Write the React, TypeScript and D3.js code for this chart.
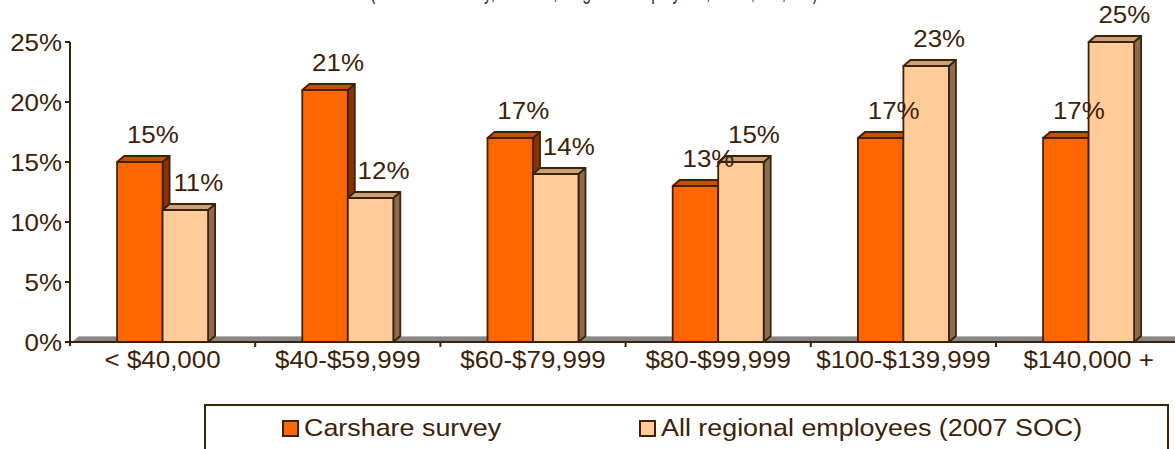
import React from 'react';
import * as d3 from 'd3';

const categories = ['< $40,000', '$40-$59,999', '$60-$79,999', '$80-$99,999', '$100-$139,999', '$140,000 +'];
const seriesNames = ['Carshare survey', 'All regional employees (2007 SOC)'];
const carshare = [15, 21, 17, 13, 17, 17];
const regional = [11, 12, 14, 15, 23, 25];
const yTicks = [0, 5, 10, 15, 20, 25];

const W = 1175;
const H = 449;
const left = 70;
const bandW = 185.2;
const barW = 45.5;
const dx = 7;
const dy = 6;
const ink = '#3d2208';
const font = '"Liberation Sans", Arial, sans-serif';

const palette = [
  { front: '#ff6600', top: '#c65000', side: '#8a3300' },
  { front: '#ffcc99', top: '#c9a17b', side: '#8c6c4e' },
];

export default function App() {
  const x = d3.scaleBand().domain(categories).range([left, left + bandW * categories.length]);
  const xs = d3.scaleBand().domain(seriesNames).range([0, barW * 2]);
  const y = d3.scaleLinear().domain([0, 25]).range([342, 42]);
  const values = [carshare, regional];
  const y0 = y(0);

  const bars: any[] = [];
  const labels: any[] = [];
  categories.forEach((c, i) => {
    const off = (x.bandwidth() - barW * 2) / 2;
    seriesNames.forEach((s, j) => {
      const v = values[j][i];
      const bx = (x(c) as number) + off + (xs(s) as number);
      const by = y(v);
      const col = palette[j];
      bars.push(
        <g key={`b${i}-${j}`} stroke={ink} strokeWidth={1.8} strokeLinejoin="round">
          <path d={`M${bx + barW},${y0} L${bx + barW + dx},${y0 - dy} L${bx + barW + dx},${by - dy} L${bx + barW},${by} Z`} fill={col.side} />
          <path d={`M${bx},${by} L${bx + dx},${by - dy} L${bx + barW + dx},${by - dy} L${bx + barW},${by} Z`} fill={col.top} />
          <rect x={bx} y={by} width={barW} height={y0 - by} fill={col.front} />
        </g>
      );
      const lx = bx + barW / 2 + 13;
      const ly = by - 19;
      labels.push(
        <text key={`l${i}-${j}`} transform={`translate(${lx},${ly}) scale(1.08,1)`} textAnchor="middle"
          fontSize={24} fill={ink} fontFamily={font}>{v}%</text>
      );
    });
  });

  return (
    <svg width={W} height={H} style={{ position: 'absolute', left: 0, top: 0, background: '#fff' }}>
      {/* title, cut off by the top edge as in the source */}
      <text x={594} y={-1} textAnchor="middle" fontSize={24} fill="#333" fontFamily={font}
        textLength={448} lengthAdjust="spacingAndGlyphs">(Carshare survey, n = 264; Regional employees, n = 1,895,400)</text>

      {/* floor */}
      <path d={`M${left + 2},${y0} L${left + 2 + dx},${y0 - dy} L${W},${y0 - dy} L${W},${y0} Z`} fill="#878787" />
      <line x1={left + 2 + dx} x2={W} y1={y0 - dy + 0.5} y2={y0 - dy + 0.5} stroke="#b5b5b5" strokeWidth={1} />

      {bars}

      {/* axes */}
      <line x1={left} x2={W} y1={y0} y2={y0} stroke={ink} strokeWidth={2} />
      <line x1={left} x2={left} y1={y(25)} y2={y0 + 4} stroke={ink} strokeWidth={2} />
      {yTicks.map((t) => (
        <g key={`t${t}`}>
          <line x1={left - 5} x2={left} y1={y(t)} y2={y(t)} stroke={ink} strokeWidth={2} />
          <text transform={`translate(${left - 8},${y(t) + 9}) scale(1.08,1)`} textAnchor="end" fontSize={24}
            fill={ink} fontFamily={font}>{t}%</text>
        </g>
      ))}
      {categories.slice(1).map((c) => (
        <line key={`xt${c}`} x1={x(c)} x2={x(c)} y1={y0} y2={y0 + 5} stroke={ink} strokeWidth={2} />
      ))}
      {categories.map((c) => (
        <text key={`xl${c}`} transform={`translate(${(x(c) as number) + x.bandwidth() / 2},${y0 + 26}) scale(1.08,1)`}
          textAnchor="middle" fontSize={24} fill={ink} fontFamily={font}>{c}</text>
      ))}

      {labels}

      {/* legend */}
      <rect x={205} y={405} width={963} height={60} fill="none" stroke={ink} strokeWidth={2} />
      {seriesNames.map((s, j) => {
        const lx = j === 0 ? 283 : 640;
        return (
          <g key={`lg${j}`}>
            <rect x={lx} y={421} width={15} height={15} fill={palette[j].front} stroke={ink} strokeWidth={2} />
            <text transform={`translate(${lx + 21},${436}) scale(1.12,1)`} fontSize={24} fill={ink} fontFamily={font}>{s}</text>
          </g>
        );
      })}
    </svg>
  );
}
